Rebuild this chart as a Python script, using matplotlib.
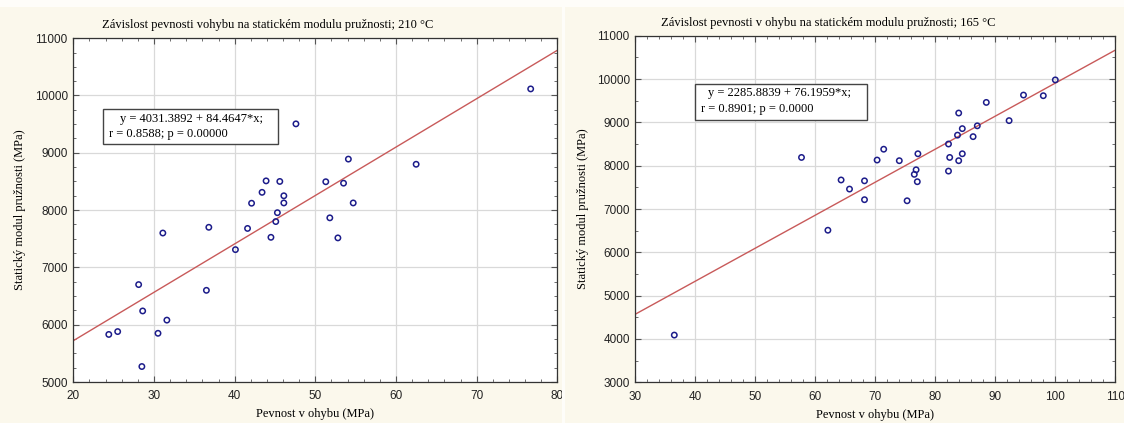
import matplotlib
matplotlib.use("Agg")
import matplotlib.pyplot as plt
from matplotlib.patches import Rectangle
from matplotlib.ticker import MultipleLocator
import numpy as np

# --- data: bending strength (MPa) vs. static modulus of elasticity (MPa) ---
strength_210 = [24.4, 25.5, 28.1, 28.6, 28.5, 30.5, 31.1, 31.6, 36.5, 36.8,
                40.1, 41.6, 42.1, 43.4, 43.9, 44.5, 45.1, 45.3, 45.6, 46.1,
                46.1, 47.6, 51.3, 51.8, 52.8, 53.5, 54.1, 54.7, 62.5, 76.7]
modulus_210 = [5830, 5880, 6700, 6240, 5270, 5850, 7600, 6080, 6600, 7700,
               7310, 7680, 8120, 8310, 8510, 7525, 7800, 7955, 8500, 8250,
               8125, 9505, 8495, 7865, 7515, 8470, 8890, 8125, 8800, 10115]

strength_165 = [36.5, 57.7, 62.1, 64.3, 65.7, 68.2, 68.2, 70.3, 71.4, 74.0,
                75.3, 77.1, 76.8, 76.5, 77.0, 82.2, 82.4, 82.2, 83.9, 83.7,
                84.5, 83.9, 84.5, 86.3, 87.0, 88.5, 92.3, 94.7, 98.0, 100.0]
modulus_165 = [4090, 8190, 6510, 7670, 7460, 7650, 7215, 8130, 8380, 8115,
               7190, 8275, 7905, 7800, 7630, 8500, 8190, 7875, 9215, 8705,
               8855, 8115, 8275, 8670, 8920, 9460, 9040, 9630, 9615, 9980]

fit_210 = (4031.3892, 84.4647)   # intercept, slope
fit_165 = (2285.8839, 76.1959)
stats_210 = ("0.8588", "0.00000")
stats_165 = ("0.8901", "0.0000")

titles = ["Závislost pevnosti vohybu na statickém modulu pružnosti; 210 °C",
          "Závislost pevnosti v ohybu na statickém modulu pružnosti; 165 °C"]
xlabel = "Pevnost v ohybu (MPa)"
ylabel = "Statický modul pružnosti (MPa)"

xlims = [(20, 80), (30, 110)]
ylims = [(5000, 11000), (3000, 11000)]

# --- styling ---
BG = "#FBF8EC"
POINT = "#1C1C8A"
LINE = "#C85A5A"
GRID = "#D9D9D9"
SERIF = ["Liberation Serif", "DejaVu Serif"]
SANS = ["Liberation Sans", "DejaVu Sans"]

W, H = 1124, 423
fig = plt.figure(figsize=(W / 100, H / 100), dpi=100, facecolor=BG)

# pale seams around the two panels
fig.patches.append(Rectangle((0, 1 - 7 / H), 1, 7 / H, transform=fig.transFigure,
                             facecolor="#FEFDF9", edgecolor="none", zorder=0))
fig.patches.append(Rectangle((562 / W, 0), 3 / W, 1, transform=fig.transFigure,
                             facecolor="#FEFDF9", edgecolor="none", zorder=0))

axes_px = [(73.3, 38.2, 557.3, 382.0), (635.3, 35.7, 1115.3, 382.3)]
xminor = [2, 2]
yminor = [250, 500]

panels = [
    (strength_210, modulus_210, fit_210, stats_210,
     (0.062, 0.692, 0.4236, 0.793), (0.0965, 0.764), (0.0744, 0.721)),
    (strength_165, modulus_165, fit_165, stats_165,
     (0.1244, 0.756, 0.482, 0.861), (0.152, 0.834), (0.136, 0.788)),
]

for i, (xs, ys, fit, st, box, l1, l2) in enumerate(panels):
    x0, y0, x1, y1 = axes_px[i]
    ax = fig.add_axes([x0 / W, 1 - y1 / H, (x1 - x0) / W, (y1 - y0) / H])
    ax.set_facecolor("white")
    ax.set_xlim(*xlims[i])
    ax.set_ylim(*ylims[i])
    ax.xaxis.set_major_locator(MultipleLocator(10))
    ax.xaxis.set_minor_locator(MultipleLocator(xminor[i]))
    ax.yaxis.set_major_locator(MultipleLocator(1000))
    ax.yaxis.set_minor_locator(MultipleLocator(yminor[i]))
    ax.grid(True, which="major", color=GRID, lw=0.9, zorder=0)
    ax.set_axisbelow(True)
    ax.tick_params(which="both", direction="in", top=True, right=True,
                   color="#555555", labelsize=8.5)
    ax.tick_params(axis="x", which="both", pad=6)
    ax.tick_params(axis="y", which="both", pad=4)
    ax.tick_params(which="major", length=4, width=0.8)
    ax.tick_params(which="minor", length=2.5, width=0.6)
    for lab in ax.get_xticklabels() + ax.get_yticklabels():
        lab.set_family(SANS)
        lab.set_color("#222222")
    for sp in ax.spines.values():
        sp.set_color("#333333")
        sp.set_linewidth(0.9)

    # regression line across the whole x range
    xr = np.array(xlims[i], dtype=float)
    ax.plot(xr, fit[0] + fit[1] * xr, color=LINE, lw=1.0, zorder=2)
    ax.scatter(xs, ys, s=15, facecolors="none", edgecolors=POINT,
               linewidths=1.1, zorder=3)

    # equation box
    bx0, by0, bx1, by1 = box
    ax.add_patch(Rectangle((bx0, by0), bx1 - bx0, by1 - by0,
                           transform=ax.transAxes, facecolor="white",
                           edgecolor="#444444", lw=1.0, zorder=4))
    ax.text(l1[0], l1[1], f"y = {fit[0]:.4f} + {fit[1]:.4f}*x;",
            transform=ax.transAxes, family=SERIF, fontsize=9,
            va="center", ha="left", zorder=5)
    ax.text(l2[0], l2[1], f"r = {st[0]}; p = {st[1]}",
            transform=ax.transAxes, family=SERIF, fontsize=9,
            va="center", ha="left", zorder=5)

    ax.text(0.401, 1.038, titles[i], transform=ax.transAxes, family=SERIF,
            fontsize=9, ha="center", va="center")
    ax.set_xlabel(xlabel, family=SERIF, fontsize=9)
    ax.set_ylabel(ylabel, family=SERIF, fontsize=9)
    ax.xaxis.set_label_coords(0.5, -0.077)
    ax.yaxis.set_label_coords(-0.097, 0.5)

fig.savefig("out.png", dpi=100, facecolor=BG)
